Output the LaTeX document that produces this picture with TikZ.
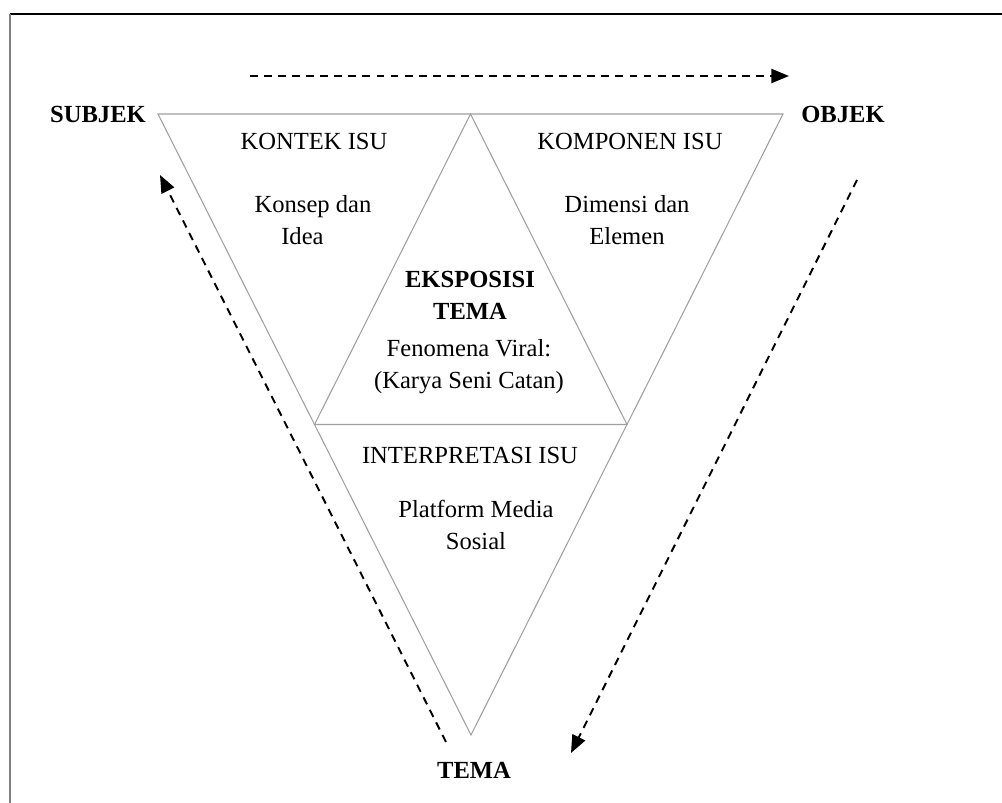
\documentclass[tikz,border=0pt]{standalone}
\usepackage{fontspec}
\setmainfont{Liberation Serif}
\usetikzlibrary{arrows.meta, calc}
\begin{document}
\begin{tikzpicture}[x=0.02cm, y=-0.02cm, font=\fontsize{14}{18.2}\selectfont,
  side/.style={draw=gray!75, line width=0.6pt},
  flow/.style={dashed, line width=1.1pt, dash pattern=on 4.5pt off 3.5pt, -{Triangle[length=10pt, width=8pt]}},
  pole/.style={font=\fontsize{14}{18.2}\selectfont\bfseries},
  head/.style={inner sep=0pt},
  body/.style={align=center, inner sep=0pt}]
\useasboundingbox (0,0) rectangle (1002,803);
% frame
\draw [line width=0.8pt] (10,14) -- (1002,14);
\draw [gray, line width=1pt] (10,14) -- (10,803);

% triangles
\coordinate (tl) at (158,114);
\coordinate (tr) at (783,114);
\coordinate (bt) at (471,735);
\draw [side] (tl) -- (tr) -- (bt) -- cycle;
\draw [side] ($(tl)!0.5!(tr)$) -- ($(tl)!0.5!(bt)$) -- ($(tr)!0.5!(bt)$) -- cycle;

% poles
\node [pole] (subjek) at (98,114) {SUBJEK};
\node [pole] (objek) at (843,114) {OBJEK};
\node [pole] (tema) at (474,770) {TEMA};

% texts
\node [head] (kontek) at (314,141) {KONTEK ISU};
\node [body] (konsep) at (313,220) {Konsep dan\\Idea\hspace*{12pt}};
\node [head] (komponen) at (630,141) {KOMPONEN ISU};
\node [body] (dimensi) at (627,220) {Dimensi dan\\Elemen};
\node [body, font=\fontsize{14}{18.2}\selectfont\bfseries] (eksposisi) at (470,295) {EKSPOSISI\\TEMA};
\node [body] (fenomena) at (469,367) {Fenomena Viral:\\(Karya Seni Catan)};
\node [head] (interpretasi) at (470,455) {INTERPRETASI ISU};
\node [body] (platform) at (476,525) {Platform Media\\Sosial};

% flow arrows
\coordinate (a1) at (250,76);
\coordinate (a2) at (789,76);
\coordinate (b1) at (446,742);
\coordinate (b2) at (160,175);
\coordinate (c1) at (857,180);
\coordinate (c2) at (571,753);
\draw [flow] (a1) -- (a2);
\draw [flow] (b1) -- (b2);
\draw [flow] (c1) -- (c2);

\end{tikzpicture}
\end{document}
